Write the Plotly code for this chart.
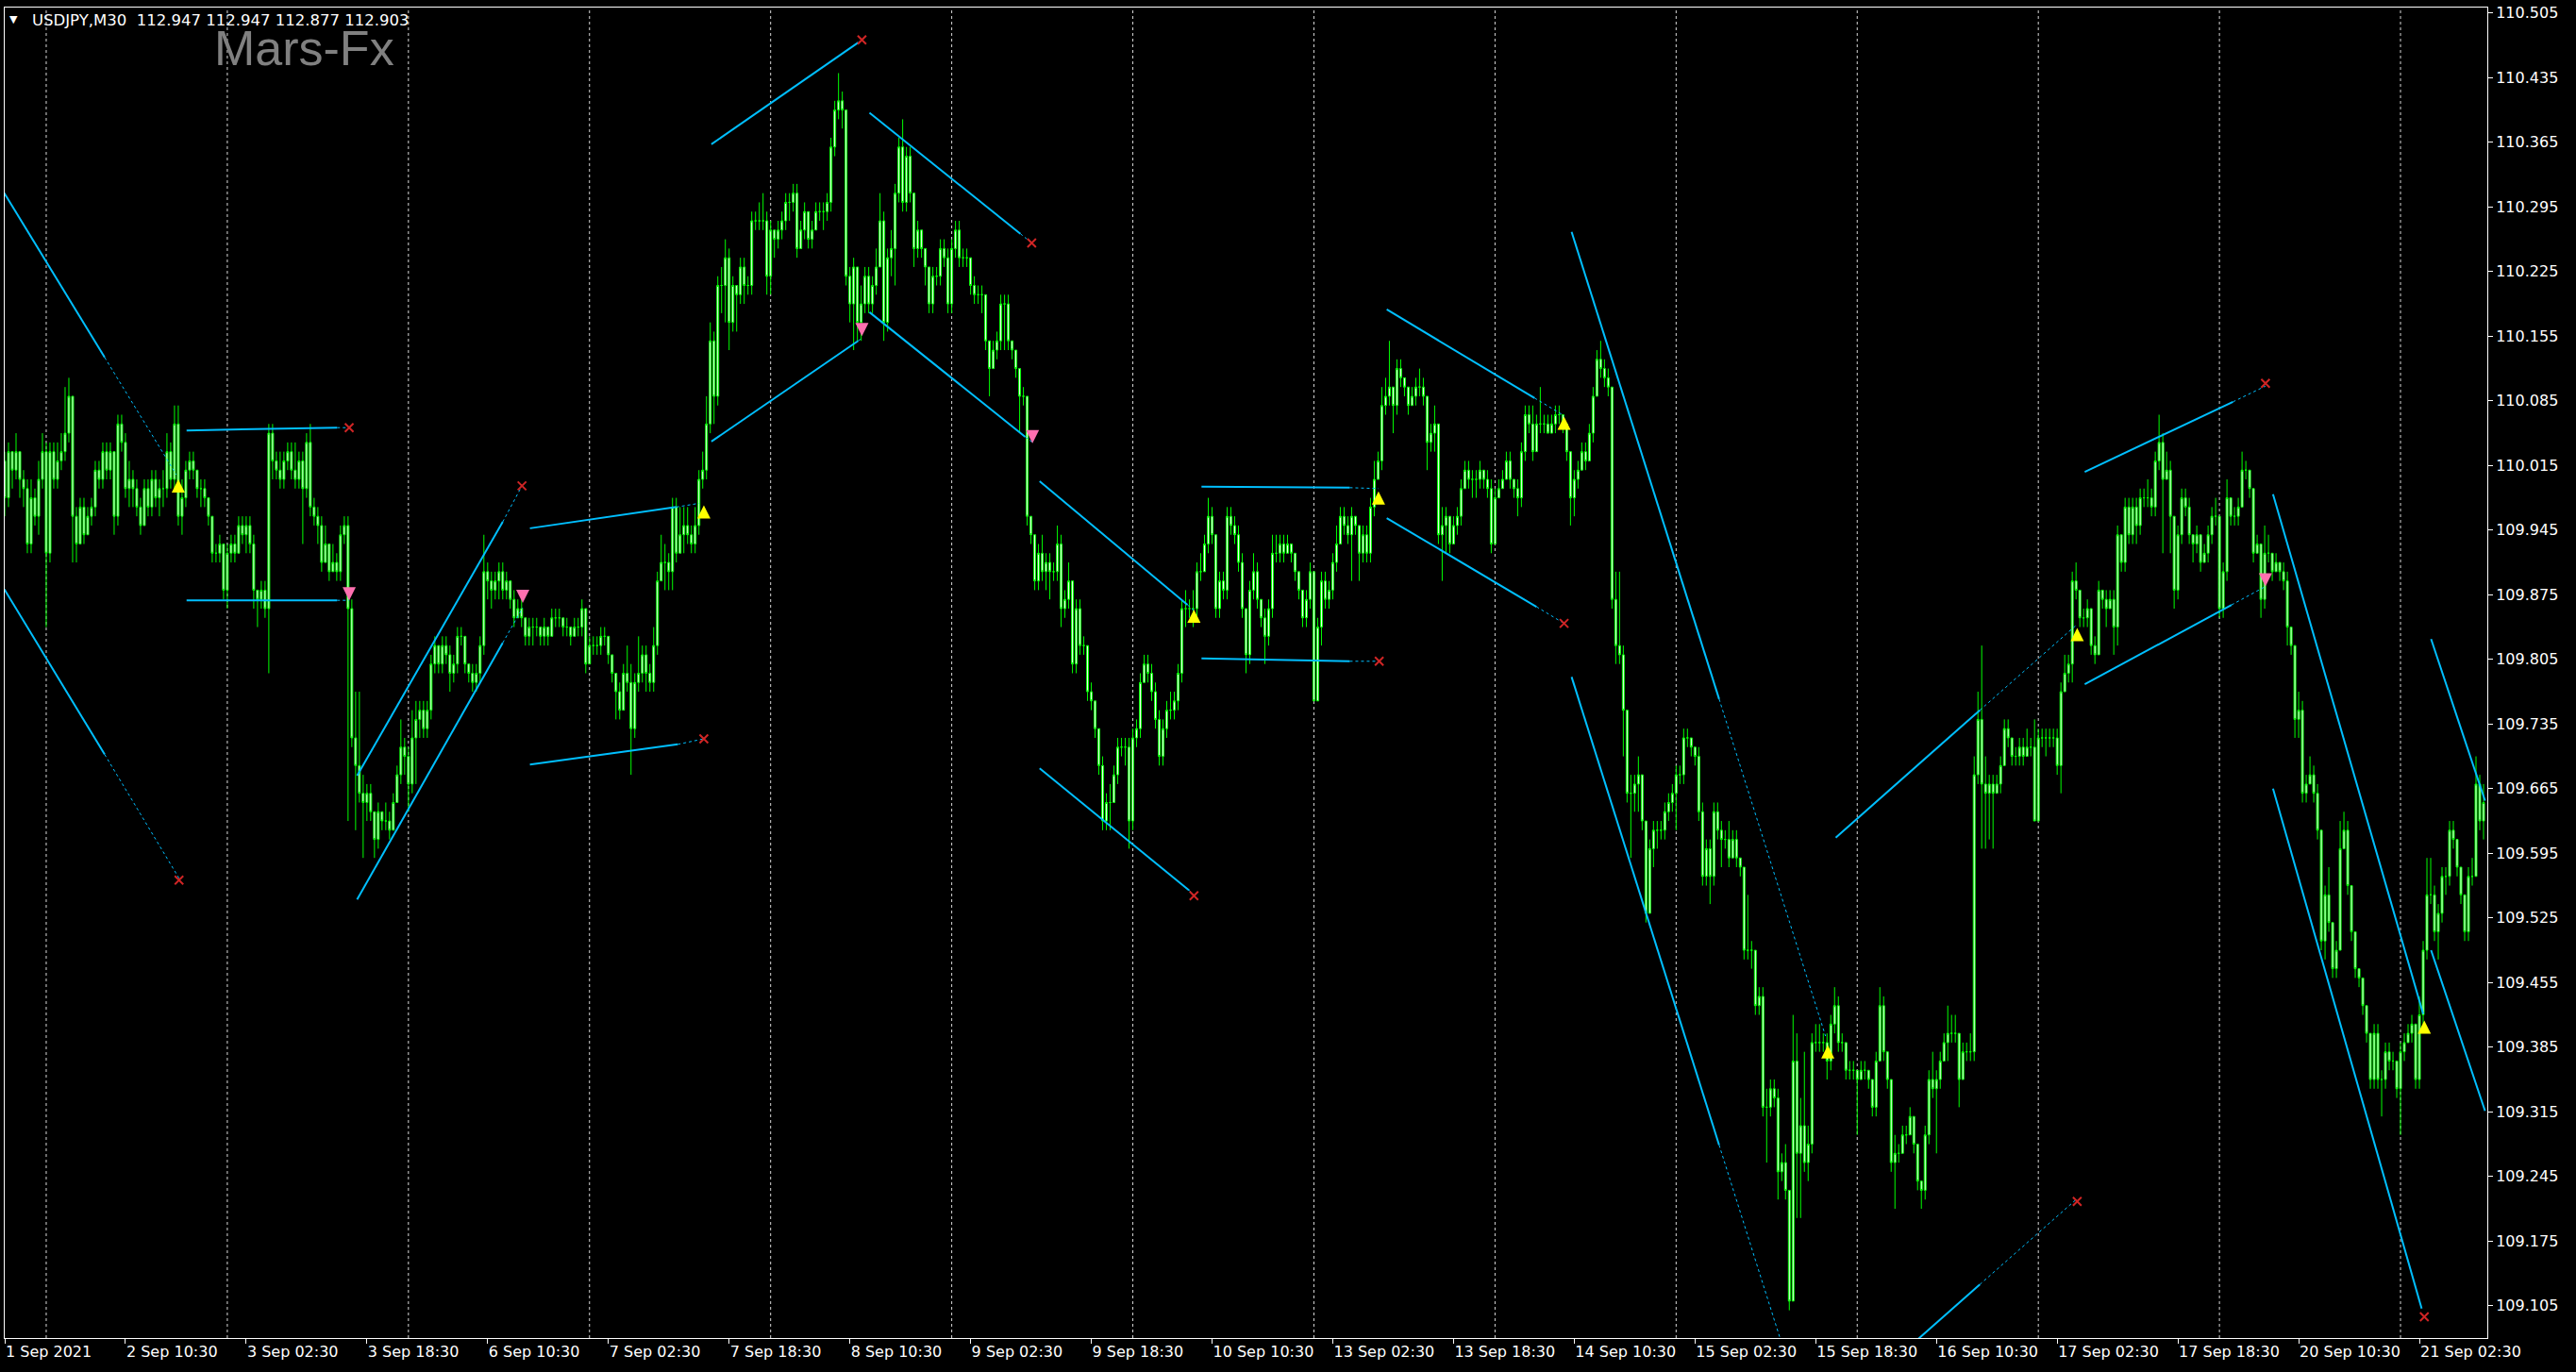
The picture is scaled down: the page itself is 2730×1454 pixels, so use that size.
import plotly.graph_objects as go

# ---------------- data (M30 bars, index 0 = 1 Sep 18:00) ----------------
first_open = 110.00

close_prices = [
    110.02, 109.98, 110.03, 110.01, 110.03, 110.00, 109.99, 109.93, 109.98, 109.96,  # 0
    110.00, 110.03, 109.92, 110.03, 110.00, 110.02, 110.03, 110.05, 110.09, 109.96,  # 10
    109.93, 109.97, 109.94, 109.96, 109.97, 110.01, 110.00, 110.03, 110.01, 110.03,  # 20
    109.96, 110.06, 110.04, 109.99, 110.00, 109.99, 109.97, 109.95, 109.99, 109.97,  # 30
    110.00, 109.98, 109.99, 109.99, 110.03, 110.00, 110.06, 109.96, 109.98, 110.01,  # 40
    110.02, 110.01, 109.99, 109.99, 109.98, 109.96, 109.92, 109.92, 109.93, 109.88,  # 50
    109.92, 109.93, 109.92, 109.95, 109.94, 109.95, 109.93, 109.88, 109.87, 109.88,  # 60
    109.86, 110.05, 110.02, 110.01, 110.00, 110.02, 110.03, 110.01, 110.00, 110.02,  # 70
    109.99, 110.04, 109.97, 109.96, 109.95, 109.91, 109.93, 109.90, 109.91, 109.90,  # 80
    109.94, 109.95, 109.86, 109.72, 109.69, 109.66, 109.65, 109.66, 109.64, 109.61,  # 90
    109.64, 109.63, 109.63, 109.62, 109.65, 109.68, 109.71, 109.70, 109.67, 109.72,  # 100
    109.74, 109.75, 109.73, 109.75, 109.80, 109.82, 109.80, 109.82, 109.81, 109.79,  # 110
    109.80, 109.83, 109.83, 109.80, 109.79, 109.78, 109.79, 109.82, 109.90, 109.89,  # 120
    109.88, 109.89, 109.90, 109.88, 109.89, 109.87, 109.85, 109.86, 109.85, 109.83,  # 130
    109.84, 109.84, 109.84, 109.83, 109.84, 109.83, 109.85, 109.85, 109.85, 109.84,  # 140
    109.84, 109.83, 109.84, 109.84, 109.86, 109.80, 109.82, 109.82, 109.82, 109.83,  # 150
    109.83, 109.81, 109.79, 109.77, 109.75, 109.79, 109.78, 109.73, 109.78, 109.79,  # 160
    109.81, 109.79, 109.78, 109.82, 109.89, 109.91, 109.91, 109.90, 109.97, 109.92,  # 170
    109.94, 109.95, 109.94, 109.93, 109.95, 110.00, 110.01, 110.06, 110.15, 110.09,  # 180
    110.21, 110.21, 110.24, 110.17, 110.21, 110.20, 110.23, 110.21, 110.21, 110.28,  # 190
    110.28, 110.28, 110.28, 110.22, 110.27, 110.26, 110.27, 110.28, 110.30, 110.30,  # 200
    110.31, 110.25, 110.27, 110.29, 110.26, 110.27, 110.29, 110.29, 110.29, 110.30,  # 210
    110.36, 110.40, 110.41, 110.40, 110.22, 110.19, 110.23, 110.17, 110.19, 110.22,  # 220
    110.19, 110.21, 110.23, 110.28, 110.17, 110.24, 110.25, 110.31, 110.36, 110.30,  # 230
    110.35, 110.31, 110.25, 110.27, 110.25, 110.23, 110.19, 110.22, 110.22, 110.25,  # 240
    110.24, 110.19, 110.25, 110.27, 110.24, 110.24, 110.24, 110.21, 110.20, 110.20,  # 250
    110.20, 110.15, 110.12, 110.14, 110.15, 110.19, 110.19, 110.15, 110.14, 110.12,  # 260
    110.09, 110.09, 109.96, 109.94, 109.89, 109.92, 109.90, 109.91, 109.90, 109.90,  # 270
    109.93, 109.86, 109.87, 109.89, 109.80, 109.86, 109.82, 109.82, 109.77, 109.76,  # 280
    109.73, 109.69, 109.63, 109.65, 109.65, 109.68, 109.71, 109.71, 109.71, 109.63,  # 290
    109.72, 109.73, 109.78, 109.80, 109.79, 109.77, 109.74, 109.70, 109.73, 109.75,  # 300
    109.75, 109.76, 109.79, 109.86, 109.86, 109.86, 109.86, 109.90, 109.90, 109.93,  # 310
    109.96, 109.94, 109.86, 109.89, 109.88, 109.96, 109.95, 109.94, 109.91, 109.86,  # 320
    109.81, 109.88, 109.90, 109.87, 109.85, 109.83, 109.86, 109.92, 109.92, 109.93,  # 330
    109.92, 109.93, 109.92, 109.90, 109.88, 109.85, 109.87, 109.90, 109.76, 109.84,  # 340
    109.89, 109.87, 109.88, 109.91, 109.93, 109.96, 109.95, 109.94, 109.96, 109.95,  # 350
    109.92, 109.94, 109.92, 109.97, 110.00, 110.02, 110.08, 110.09, 110.10, 110.08,  # 360
    110.12, 110.11, 110.10, 110.08, 110.09, 110.10, 110.10, 110.09, 110.04, 110.05,  # 370
    110.06, 109.94, 109.95, 109.96, 109.93, 109.95, 109.96, 109.99, 110.01, 110.00,  # 380
    110.00, 110.00, 110.01, 110.00, 109.99, 109.93, 109.98, 109.99, 110.00, 110.02,  # 390
    110.00, 109.99, 109.98, 110.03, 110.07, 110.06, 110.03, 110.06, 110.06, 110.06,  # 400
    110.05, 110.06, 110.07, 110.07, 110.06, 110.03, 109.98, 110.00, 110.01, 110.03,  # 410
    110.02, 110.05, 110.09, 110.13, 110.12, 110.11, 110.10, 109.87, 109.82, 109.81,  # 420
    109.75, 109.66, 109.66, 109.67, 109.68, 109.63, 109.53, 109.60, 109.62, 109.62,  # 430
    109.62, 109.64, 109.65, 109.66, 109.68, 109.68, 109.72, 109.72, 109.71, 109.70,  # 440
    109.64, 109.57, 109.60, 109.57, 109.64, 109.62, 109.61, 109.61, 109.59, 109.61,  # 450
    109.59, 109.58, 109.49, 109.49, 109.49, 109.43, 109.44, 109.32, 109.32, 109.34,  # 460
    109.33, 109.25, 109.26, 109.23, 109.11, 109.37, 109.27, 109.30, 109.26, 109.28,  # 470
    109.39, 109.39, 109.39, 109.39, 109.37, 109.41, 109.43, 109.39, 109.39, 109.36,  # 480
    109.36, 109.36, 109.35, 109.36, 109.36, 109.35, 109.32, 109.37, 109.43, 109.38,  # 490
    109.35, 109.26, 109.27, 109.27, 109.29, 109.29, 109.31, 109.28, 109.24, 109.23,  # 500
    109.29, 109.35, 109.34, 109.35, 109.37, 109.39, 109.40, 109.40, 109.40, 109.35,  # 510
    109.38, 109.38, 109.38, 109.68, 109.74, 109.67, 109.66, 109.67, 109.66, 109.67,  # 520
    109.69, 109.73, 109.72, 109.70, 109.70, 109.71, 109.70, 109.71, 109.71, 109.63,  # 530
    109.72, 109.72, 109.72, 109.72, 109.72, 109.69, 109.77, 109.79, 109.80, 109.89,  # 540
    109.88, 109.85, 109.85, 109.86, 109.82, 109.81, 109.88, 109.87, 109.86, 109.87,  # 550
    109.84, 109.94, 109.91, 109.97, 109.94, 109.97, 109.95, 109.98, 109.98, 109.98,  # 560
    109.97, 110.02, 110.04, 110.00, 110.01, 109.96, 109.88, 109.94, 109.98, 109.97,  # 570
    109.94, 109.93, 109.94, 109.91, 109.92, 109.94, 109.96, 109.96, 109.86, 109.90,  # 580
    109.98, 109.96, 109.96, 109.97, 110.01, 110.01, 109.99, 109.92, 109.93, 109.87,  # 590
    109.92, 109.92, 109.90, 109.91, 109.90, 109.89, 109.84, 109.82, 109.74, 109.75,  # 600
    109.66, 109.67, 109.68, 109.66, 109.62, 109.50, 109.55, 109.52, 109.47, 109.49,  # 610
    109.60, 109.62, 109.56, 109.51, 109.47, 109.46, 109.43, 109.40, 109.35, 109.40,  # 620
    109.35, 109.35, 109.38, 109.37, 109.37, 109.34, 109.38, 109.39, 109.40, 109.41,  # 630
    109.35, 109.42, 109.49, 109.55, 109.55, 109.51, 109.53, 109.57, 109.57, 109.62,  # 640
    109.61, 109.58, 109.55, 109.51, 109.57, 109.57, 109.67, 109.63, 109.65,          # 650
]

high_prices = [
    110.04, 110.03, 110.04, 110.03, 110.05, 110.03, 110.01, 110.00, 110.00, 109.99,
    110.02, 110.05, 110.04, 110.04, 110.04, 110.04, 110.05, 110.10, 110.11, 110.08,
    109.97, 109.98, 109.98, 109.97, 109.98, 110.02, 110.02, 110.04, 110.04, 110.04,
    110.02, 110.07, 110.07, 110.05, 110.02, 110.01, 110.00, 109.98, 110.00, 110.00,
    110.01, 110.01, 110.00, 110.01, 110.05, 110.04, 110.08, 110.08, 110.00, 110.02,
    110.03, 110.03, 110.01, 110.00, 110.00, 109.98, 109.96, 109.93, 109.94, 109.93,
    109.93, 109.94, 109.94, 109.96, 109.96, 109.96, 109.96, 109.94, 109.88, 109.89,
    109.89, 110.06, 110.06, 110.03, 110.03, 110.03, 110.04, 110.04, 110.04, 110.03,
    110.03, 110.05, 110.06, 109.98, 109.97, 109.96, 109.95, 109.93, 109.93, 109.92,
    109.95, 109.96, 109.96, 109.87, 109.77, 109.77, 109.68, 109.67, 109.67, 109.64,
    109.65, 109.64, 109.65, 109.64, 109.66, 109.69, 109.74, 109.72, 109.71, 109.75,
    109.76, 109.76, 109.76, 109.76, 109.81, 109.83, 109.82, 109.83, 109.83, 109.82,
    109.81, 109.84, 109.84, 109.83, 109.80, 109.80, 109.80, 109.83, 109.94, 109.91,
    109.90, 109.90, 109.91, 109.91, 109.90, 109.89, 109.88, 109.87, 109.87, 109.85,
    109.85, 109.85, 109.85, 109.84, 109.85, 109.84, 109.86, 109.86, 109.86, 109.85,
    109.85, 109.84, 109.85, 109.85, 109.87, 109.86, 109.83, 109.83, 109.83, 109.84,
    109.84, 109.83, 109.81, 109.79, 109.78, 109.80, 109.82, 109.80, 109.79, 109.83,
    109.82, 109.82, 109.80, 109.84, 109.90, 109.94, 109.93, 109.92, 109.98, 109.98,
    109.97, 109.97, 109.97, 109.95, 109.97, 110.01, 110.03, 110.09, 110.17, 110.16,
    110.22, 110.23, 110.26, 110.25, 110.22, 110.21, 110.24, 110.24, 110.22, 110.29,
    110.29, 110.30, 110.31, 110.29, 110.28, 110.27, 110.28, 110.29, 110.31, 110.31,
    110.32, 110.32, 110.28, 110.30, 110.29, 110.28, 110.30, 110.30, 110.30, 110.31,
    110.37, 110.41, 110.44, 110.42, 110.40, 110.23, 110.24, 110.20, 110.21, 110.23,
    110.23, 110.22, 110.25, 110.31, 110.29, 110.25, 110.27, 110.32, 110.37, 110.39,
    110.36, 110.36, 110.31, 110.28, 110.27, 110.25, 110.23, 110.23, 110.23, 110.26,
    110.26, 110.25, 110.26, 110.28, 110.28, 110.25, 110.25, 110.24, 110.22, 110.21,
    110.21, 110.20, 110.15, 110.15, 110.16, 110.20, 110.20, 110.20, 110.15, 110.14,
    110.12, 110.10, 110.09, 109.96, 109.94, 109.93, 109.94, 109.92, 109.92, 109.91,
    109.95, 109.94, 109.88, 109.91, 109.89, 109.87, 109.87, 109.83, 109.82, 109.78,
    109.76, 109.73, 109.70, 109.66, 109.67, 109.69, 109.72, 109.72, 109.72, 109.72,
    109.73, 109.74, 109.79, 109.81, 109.81, 109.80, 109.78, 109.75, 109.74, 109.76,
    109.77, 109.77, 109.80, 109.87, 109.88, 109.87, 109.88, 109.91, 109.92, 109.94,
    109.98, 109.97, 109.94, 109.90, 109.90, 109.97, 109.97, 109.96, 109.95, 109.92,
    109.86, 109.89, 109.92, 109.91, 109.87, 109.86, 109.87, 109.94, 109.94, 109.94,
    109.94, 109.94, 109.93, 109.92, 109.90, 109.88, 109.88, 109.91, 109.90, 109.85,
    109.90, 109.90, 109.89, 109.92, 109.95, 109.97, 109.97, 109.96, 109.97, 109.96,
    109.95, 109.95, 109.95, 109.98, 110.02, 110.03, 110.10, 110.11, 110.15, 110.10,
    110.13, 110.13, 110.11, 110.10, 110.10, 110.11, 110.12, 110.11, 110.09, 110.06,
    110.08, 110.06, 109.97, 109.97, 109.96, 109.96, 109.97, 110.00, 110.02, 110.02,
    110.01, 110.01, 110.02, 110.01, 110.01, 110.00, 109.99, 110.00, 110.01, 110.03,
    110.03, 110.00, 110.00, 110.04, 110.08, 110.08, 110.08, 110.07, 110.10, 110.07,
    110.07, 110.07, 110.08, 110.08, 110.07, 110.06, 110.03, 110.01, 110.02, 110.04,
    110.04, 110.06, 110.10, 110.14, 110.15, 110.13, 110.12, 110.10, 109.90, 109.90,
    109.82, 109.75, 109.68, 109.68, 109.70, 109.68, 109.63, 109.61, 109.63, 109.63,
    109.63, 109.65, 109.66, 109.67, 109.69, 109.69, 109.73, 109.73, 109.72, 109.71,
    109.71, 109.65, 109.61, 109.61, 109.65, 109.65, 109.63, 109.62, 109.63, 109.62,
    109.62, 109.59, 109.58, 109.55, 109.50, 109.49, 109.45, 109.45, 109.34, 109.35,
    109.35, 109.34, 109.27, 109.28, 109.23, 109.42, 109.40, 109.33, 109.38, 109.30,
    109.40, 109.41, 109.41, 109.40, 109.40, 109.42, 109.45, 109.44, 109.40, 109.39,
    109.37, 109.37, 109.36, 109.37, 109.37, 109.36, 109.35, 109.38, 109.45, 109.44,
    109.38, 109.35, 109.29, 109.28, 109.30, 109.30, 109.32, 109.31, 109.28, 109.24,
    109.30, 109.36, 109.38, 109.36, 109.38, 109.40, 109.43, 109.42, 109.42, 109.40,
    109.39, 109.39, 109.40, 109.70, 109.77, 109.82, 109.70, 109.68, 109.68, 109.68,
    109.70, 109.74, 109.74, 109.72, 109.71, 109.72, 109.72, 109.73, 109.72, 109.74,
    109.73, 109.73, 109.73, 109.73, 109.73, 109.73, 109.78, 109.81, 109.81, 109.90,
    109.91, 109.88, 109.86, 109.87, 109.84, 109.83, 109.89, 109.88, 109.88, 109.88,
    109.88, 109.95, 109.94, 109.98, 109.98, 109.98, 109.98, 109.99, 109.99, 110.00,
    109.99, 110.03, 110.07, 110.05, 110.03, 110.02, 109.96, 109.95, 109.99, 109.99,
    109.98, 109.94, 109.95, 109.94, 109.93, 109.95, 109.97, 109.98, 109.94, 109.91,
    110.00, 109.98, 109.97, 109.98, 110.03, 110.02, 110.01, 109.99, 109.94, 109.93,
    109.95, 109.94, 109.92, 109.92, 109.91, 109.91, 109.90, 109.84, 109.82, 109.77,
    109.76, 109.68, 109.70, 109.69, 109.67, 109.62, 109.56, 109.58, 109.52, 109.50,
    109.63, 109.64, 109.63, 109.56, 109.51, 109.47, 109.46, 109.43, 109.40, 109.41,
    109.41, 109.36, 109.39, 109.39, 109.38, 109.37, 109.39, 109.40, 109.41, 109.42,
    109.41, 109.44, 109.50, 109.59, 109.59, 109.56, 109.54, 109.58, 109.58, 109.63,
    109.63, 109.61, 109.58, 109.55, 109.58, 109.59, 109.70, 109.68, 109.67,
]

low_prices = [
    109.98, 109.96, 109.97, 109.99, 110.00, 109.98, 109.97, 109.92, 109.92, 109.95,
    109.94, 109.99, 109.84, 109.91, 109.99, 109.99, 110.01, 110.02, 110.04, 109.91,
    109.91, 109.93, 109.93, 109.94, 109.95, 109.96, 109.99, 109.99, 110.00, 110.00,
    109.94, 109.95, 110.03, 109.98, 109.97, 109.97, 109.96, 109.94, 109.95, 109.96,
    109.96, 109.97, 109.96, 109.97, 109.98, 109.99, 109.99, 109.95, 109.94, 109.97,
    110.00, 110.00, 109.98, 109.97, 109.97, 109.95, 109.91, 109.91, 109.91, 109.87,
    109.86, 109.91, 109.91, 109.92, 109.93, 109.92, 109.92, 109.86, 109.84, 109.86,
    109.85, 109.79, 110.00, 110.00, 109.99, 109.99, 110.01, 110.00, 109.99, 109.99,
    109.93, 109.98, 109.96, 109.95, 109.93, 109.90, 109.91, 109.89, 109.90, 109.89,
    109.89, 109.93, 109.63, 109.71, 109.62, 109.65, 109.59, 109.63, 109.63, 109.59,
    109.60, 109.62, 109.62, 109.61, 109.62, 109.65, 109.67, 109.68, 109.64, 109.66,
    109.67, 109.72, 109.72, 109.72, 109.74, 109.79, 109.79, 109.79, 109.80, 109.77,
    109.78, 109.79, 109.82, 109.79, 109.78, 109.77, 109.77, 109.78, 109.81, 109.87,
    109.86, 109.87, 109.87, 109.87, 109.87, 109.86, 109.84, 109.85, 109.84, 109.82,
    109.82, 109.82, 109.83, 109.82, 109.82, 109.82, 109.83, 109.84, 109.84, 109.83,
    109.83, 109.82, 109.83, 109.83, 109.83, 109.79, 109.80, 109.81, 109.81, 109.81,
    109.82, 109.80, 109.78, 109.74, 109.74, 109.75, 109.77, 109.68, 109.72, 109.77,
    109.78, 109.77, 109.77, 109.77, 109.81, 109.89, 109.88, 109.88, 109.88, 109.91,
    109.92, 109.92, 109.93, 109.92, 109.92, 109.94, 109.99, 110.00, 110.05, 110.06,
    110.08, 110.18, 110.17, 110.14, 110.16, 110.16, 110.19, 110.19, 110.20, 110.20,
    110.27, 110.27, 110.27, 110.20, 110.20, 110.24, 110.25, 110.26, 110.27, 110.28,
    110.29, 110.24, 110.25, 110.26, 110.25, 110.25, 110.27, 110.28, 110.27, 110.28,
    110.29, 110.35, 110.39, 110.38, 110.21, 110.17, 110.14, 110.15, 110.15, 110.18,
    110.18, 110.18, 110.20, 110.23, 110.15, 110.16, 110.22, 110.21, 110.30, 110.29,
    110.29, 110.30, 110.23, 110.24, 110.24, 110.21, 110.18, 110.18, 110.21, 110.21,
    110.23, 110.18, 110.18, 110.24, 110.23, 110.23, 110.23, 110.20, 110.19, 110.19,
    110.18, 110.14, 110.09, 110.12, 110.13, 110.14, 110.14, 110.14, 110.13, 110.11,
    110.05, 110.08, 109.95, 109.93, 109.88, 109.88, 109.89, 109.88, 109.87, 109.89,
    109.89, 109.84, 109.85, 109.86, 109.79, 109.79, 109.81, 109.81, 109.76, 109.75,
    109.72, 109.68, 109.62, 109.62, 109.62, 109.65, 109.67, 109.70, 109.69, 109.60,
    109.62, 109.71, 109.72, 109.78, 109.78, 109.76, 109.73, 109.69, 109.69, 109.72,
    109.74, 109.74, 109.75, 109.78, 109.84, 109.85, 109.84, 109.85, 109.89, 109.90,
    109.92, 109.93, 109.85, 109.85, 109.87, 109.87, 109.94, 109.93, 109.90, 109.85,
    109.79, 109.80, 109.87, 109.86, 109.84, 109.80, 109.82, 109.85, 109.91, 109.91,
    109.91, 109.92, 109.91, 109.89, 109.87, 109.84, 109.84, 109.86, 109.76, 109.76,
    109.82, 109.86, 109.86, 109.87, 109.90, 109.93, 109.94, 109.93, 109.89, 109.94,
    109.89, 109.91, 109.91, 109.91, 109.96, 110.00, 110.01, 110.07, 110.08, 110.05,
    110.07, 110.10, 110.09, 110.07, 110.08, 110.08, 110.09, 110.08, 110.01, 110.03,
    110.03, 109.93, 109.89, 109.92, 109.92, 109.94, 109.94, 109.95, 109.99, 109.99,
    109.98, 109.98, 109.99, 109.99, 109.98, 109.92, 109.93, 109.98, 109.99, 110.00,
    109.99, 109.98, 109.96, 109.97, 110.02, 110.05, 110.02, 110.03, 110.05, 110.05,
    110.05, 110.05, 110.05, 110.06, 110.05, 110.02, 109.95, 109.96, 109.99, 110.01,
    110.01, 110.02, 110.04, 110.09, 110.11, 110.10, 110.09, 109.86, 109.80, 109.80,
    109.70, 109.65, 109.59, 109.64, 109.64, 109.62, 109.52, 109.53, 109.58, 109.60,
    109.61, 109.61, 109.63, 109.64, 109.62, 109.67, 109.67, 109.71, 109.70, 109.69,
    109.63, 109.56, 109.56, 109.54, 109.56, 109.61, 109.58, 109.60, 109.58, 109.59,
    109.58, 109.57, 109.48, 109.48, 109.47, 109.42, 109.42, 109.31, 109.26, 109.31,
    109.32, 109.22, 109.24, 109.22, 109.10, 109.13, 109.20, 109.20, 109.25, 109.24,
    109.27, 109.38, 109.38, 109.38, 109.35, 109.36, 109.40, 109.38, 109.38, 109.35,
    109.35, 109.35, 109.29, 109.35, 109.35, 109.34, 109.31, 109.31, 109.37, 109.37,
    109.34, 109.25, 109.21, 109.26, 109.27, 109.28, 109.29, 109.27, 109.23, 109.21,
    109.22, 109.28, 109.33, 109.27, 109.34, 109.37, 109.37, 109.39, 109.39, 109.32,
    109.35, 109.37, 109.37, 109.37, 109.67, 109.60, 109.60, 109.61, 109.60, 109.66,
    109.66, 109.69, 109.71, 109.69, 109.69, 109.69, 109.69, 109.70, 109.70, 109.63,
    109.66, 109.71, 109.70, 109.71, 109.71, 109.68, 109.66, 109.77, 109.78, 109.78,
    109.87, 109.84, 109.84, 109.84, 109.81, 109.80, 109.81, 109.86, 109.84, 109.86,
    109.81, 109.82, 109.90, 109.90, 109.93, 109.93, 109.93, 109.94, 109.97, 109.97,
    109.96, 109.96, 110.01, 109.92, 110.00, 109.92, 109.86, 109.87, 109.93, 109.96,
    109.93, 109.91, 109.92, 109.90, 109.91, 109.91, 109.93, 109.95, 109.85, 109.85,
    109.89, 109.95, 109.95, 109.95, 109.97, 110.00, 109.98, 109.91, 109.92, 109.85,
    109.86, 109.91, 109.89, 109.90, 109.89, 109.88, 109.82, 109.81, 109.72, 109.72,
    109.65, 109.65, 109.67, 109.65, 109.61, 109.49, 109.48, 109.51, 109.46, 109.46,
    109.49, 109.60, 109.55, 109.50, 109.46, 109.45, 109.42, 109.39, 109.34, 109.34,
    109.34, 109.31, 109.34, 109.36, 109.36, 109.33, 109.29, 109.37, 109.39, 109.39,
    109.34, 109.34, 109.41, 109.48, 109.54, 109.50, 109.48, 109.52, 109.55, 109.56,
    109.60, 109.57, 109.54, 109.50, 109.50, 109.56, 109.57, 109.62, 109.61,
]

# time-axis labels (bar index where each label's tick sits)
label_bars = [1, 33, 65, 97, 129, 161, 193, 225, 257, 289, 321,
              353, 385, 417, 449, 481, 513, 545, 577, 609, 641]
label_text = ["1 Sep 2021", "2 Sep 10:30", "3 Sep 02:30", "3 Sep 18:30", "6 Sep 10:30",
              "7 Sep 02:30", "7 Sep 18:30", "8 Sep 10:30", "9 Sep 02:30", "9 Sep 18:30",
              "10 Sep 10:30", "13 Sep 02:30", "13 Sep 18:30", "14 Sep 10:30", "15 Sep 02:30",
              "15 Sep 18:30", "16 Sep 10:30", "17 Sep 02:30", "17 Sep 18:30", "20 Sep 10:30",
              "21 Sep 02:30"]

# first bar of each trading day (dotted separators)
day_start_bars = [12, 60, 108, 156, 204, 252, 300, 348, 396, 444, 492, 540, 588, 636]

price_ticks = [109.105, 109.175, 109.245, 109.315, 109.385, 109.455, 109.525, 109.595,
               109.665, 109.735, 109.805, 109.875, 109.945, 110.015, 110.085, 110.155,
               110.225, 110.295, 110.365, 110.435, 110.505]

# channel lines: (bar0, price0, bar1, price1)
solid_lines = [
    (0, 110.316, 27.5, 110.132), (0, 109.887, 27.5, 109.702),
    (49.2, 110.053, 89.1, 110.056), (49.2, 109.869, 89.1, 109.869),
    (94.4, 109.679, 133, 109.954), (94.4, 109.545, 133, 109.823),
    (140.2, 109.947, 179, 109.970), (140.2, 109.691, 179.4, 109.713),
    (188.3, 110.363, 227.2, 110.473), (188.3, 110.041, 227.2, 110.150),
    (230.2, 110.397, 270.2, 110.266), (230.2, 110.181, 271.5, 110.046),
    (275.3, 109.998, 314.5, 109.864), (275.3, 109.687, 314.9, 109.555),
    (318.2, 109.992, 357.5, 109.991), (318.2, 109.806, 357.5, 109.803),
    (367.3, 110.184, 406.5, 110.088), (367.3, 109.958, 407.0, 109.862),
    (416.3, 110.268, 455.4, 109.762), (416.3, 109.786, 455.4, 109.279),
    (486.3, 109.612, 524.5, 109.750), (486.3, 108.990, 524.5, 109.128),
    (552.3, 110.008, 591.6, 110.084), (552.3, 109.778, 591.2, 109.864),
    (602.2, 109.984, 642.0, 109.421), (602.2, 109.665, 641.6, 109.102),
    (644.1, 109.827, 658.4, 109.652), (644.1, 109.490, 658.4, 109.316),
]
dotted_lines = [
    (27.5, 110.132, 46.5, 110.005), (27.5, 109.702, 47.2, 109.568),
    (89.1, 110.056, 92.3, 110.056), (89.1, 109.869, 92.3, 109.869),
    (133, 109.954, 138.1, 109.993), (133, 109.823, 138.3, 109.861),
    (179, 109.970, 185.0, 109.974), (179.4, 109.713, 186.3, 109.719),
    (227.2, 110.473, 228.2, 110.476), (227.2, 110.150, 228.2, 110.153),
    (270.2, 110.266, 273.2, 110.256), (271.5, 110.046, 273.4, 110.040),
    (314.5, 109.864, 316.2, 109.858), (314.9, 109.555, 316.2, 109.550),
    (357.5, 109.991, 365.1, 109.990), (357.5, 109.803, 365.3, 109.803),
    (406.5, 110.088, 414.3, 110.069), (407.0, 109.862, 414.3, 109.844),
    (455.4, 109.762, 483.6, 109.397), (455.4, 109.279, 474.0, 109.038),
    (524.5, 109.750, 550.3, 109.843), (524.5, 109.128, 550.3, 109.221),
    (591.6, 110.084, 600.2, 110.101), (591.2, 109.864, 600.2, 109.884),
]

buy_arrows = [(47, 110.000), (186.3, 109.972), (316.2, 109.859), (365.1, 109.987),
              (414.3, 110.068), (484.2, 109.387), (550.3, 109.839), (642.3, 109.414)]
sell_arrows = [(92.3, 109.869), (138.3, 109.866), (228.2, 110.155), (273.4, 110.039),
               (600.2, 109.884)]
stop_marks = [(47.2, 109.566), (92.3, 110.056), (138.1, 109.993), (186.3, 109.719),
              (228.2, 110.476), (273.2, 110.256), (316.2, 109.549), (365.3, 109.803),
              (414.3, 109.844), (550.3, 109.218), (600.2, 110.104), (642.3, 109.093)]

header_text = "USDJPY,M30  112.947 112.947 112.877 112.903"
watermark_text = "Mars-Fx"

# ---------------- build ----------------
n = len(close_prices)
bars = list(range(n))
open_prices = [first_open] + close_prices[:-1]
highs = [max(h, o, c) for h, o, c in zip(high_prices, open_prices, close_prices)]
lows = [min(l, o, c) for l, o, c in zip(low_prices, open_prices, close_prices)]

W, H = 2730, 1454
ML, MR, MT, MB = 4, 94, 4, 36
PW, PH = W - ML - MR, H - MT - MB

CYAN = "#00BFFF"
GREEN = "#00FF00"

fig = go.Figure()

fig.add_trace(go.Candlestick(
    x=bars, open=open_prices, high=highs, low=lows, close=close_prices,
    increasing=dict(line=dict(color=GREEN, width=1), fillcolor="#FFFFFF"),
    decreasing=dict(line=dict(color=GREEN, width=1), fillcolor="#FFFFFF"),
    whiskerwidth=0, hoverinfo="skip", showlegend=False,
))


def seg_xy(segs):
    xs, ys = [], []
    for b0, p0, b1, p1 in segs:
        xs += [b0, b1, None]
        ys += [p0, p1, None]
    return xs, ys


sx, sy = seg_xy(solid_lines)
fig.add_trace(go.Scatter(x=sx, y=sy, mode="lines", line=dict(color=CYAN, width=2),
                         hoverinfo="skip", showlegend=False))
dx, dy = seg_xy(dotted_lines)
fig.add_trace(go.Scatter(x=dx, y=dy, mode="lines", line=dict(color=CYAN, width=1, dash="dot"),
                         hoverinfo="skip", showlegend=False))

fig.add_trace(go.Scatter(
    x=[p[0] for p in stop_marks], y=[p[1] for p in stop_marks], mode="markers",
    marker=dict(symbol="x-thin", size=9, line=dict(color="#D02525", width=2)),
    hoverinfo="skip", showlegend=False))
fig.add_trace(go.Scatter(
    x=[p[0] for p in buy_arrows], y=[p[1] for p in buy_arrows], mode="markers",
    marker=dict(symbol="arrow-up", size=14, color="#FFFF00"),
    hoverinfo="skip", showlegend=False))
fig.add_trace(go.Scatter(
    x=[p[0] for p in sell_arrows], y=[p[1] for p in sell_arrows], mode="markers",
    marker=dict(symbol="arrow-down", size=14, color="#FF70B0"),
    hoverinfo="skip", showlegend=False))

for b in day_start_bars:
    fig.add_shape(type="line", xref="x", yref="paper", x0=b, x1=b, y0=0, y1=1,
                  line=dict(color="#D8D8D8", width=1, dash="dot"), layer="below")

fig.add_annotation(xref="paper", yref="paper", x=(14 - ML) / PW, y=1 - (17 - MT) / PH,
                   text="▼", showarrow=False, xanchor="center", yanchor="middle",
                   font=dict(family="DejaVu Sans", size=11, color="white"))
fig.add_annotation(xref="paper", yref="paper", x=(31 - ML) / PW, y=1 - (18 - MT) / PH,
                   text=header_text.replace("  ", "&nbsp;&nbsp;"), showarrow=False,
                   xanchor="left", yanchor="middle",
                   font=dict(family="DejaVu Sans", size=16.5, color="white"))
fig.add_annotation(xref="paper", yref="paper", x=(224 - ML) / PW, y=1 - (47 - MT) / PH,
                   text=watermark_text, showarrow=False, xanchor="left", yanchor="middle",
                   font=dict(family="Liberation Sans", size=52, color="#808080"))

fig.update_layout(
    width=W, height=H,
    margin=dict(l=ML, r=MR, t=MT, b=MB, pad=0),
    paper_bgcolor="black", plot_bgcolor="black",
    showlegend=False,
    font=dict(family="DejaVu Sans", size=16, color="white"),
    xaxis=dict(
        range=[1, 659], rangeslider=dict(visible=False),
        tickmode="array", tickvals=label_bars, ticktext=label_text,
        ticks="outside", ticklen=5, tickcolor="white", tickwidth=1,
        ticklabelposition="outside right",
        tickfont=dict(family="DejaVu Sans", size=16, color="white"),
        showgrid=False, zeroline=False,
        showline=True, linecolor="white", linewidth=1, mirror=True,
    ),
    yaxis=dict(
        side="right", range=[109.070, 110.511],
        tickmode="array", tickvals=price_ticks,
        ticktext=[f"{v:.3f}" for v in price_ticks],
        ticks="outside", ticklen=5, tickcolor="white", tickwidth=1,
        tickfont=dict(family="DejaVu Sans", size=16, color="white"),
        showgrid=False, zeroline=False,
        showline=True, linecolor="white", linewidth=1, mirror=True,
    ),
)

fig.write_html("out.html", config={"displayModeBar": False},
               post_script="document.body.style.margin='0';document.body.style.overflow='hidden';")
